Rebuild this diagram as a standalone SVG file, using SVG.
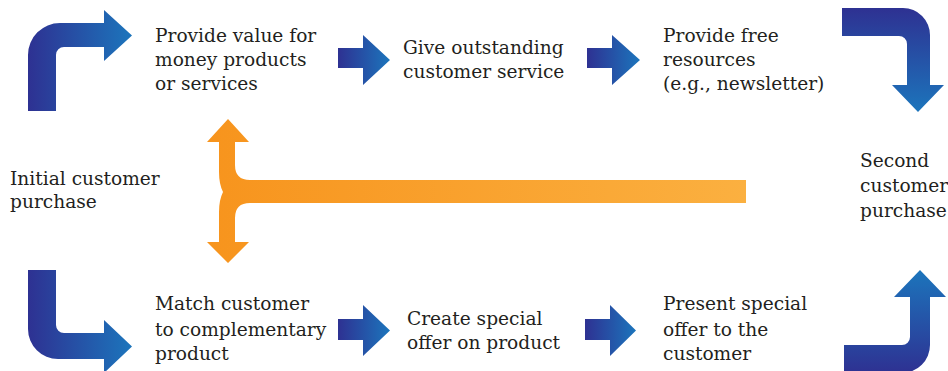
<svg xmlns="http://www.w3.org/2000/svg" width="948" height="371" viewBox="0 0 948 371">
  <defs>
    <linearGradient id="blueH" x1="0" y1="0" x2="1" y2="0">
      <stop offset="0" stop-color="#2e3192"/>
      <stop offset="1" stop-color="#1c75bc"/>
    </linearGradient>
    <linearGradient id="blueDown" x1="0" y1="0" x2="0" y2="1">
      <stop offset="0" stop-color="#2e3192"/>
      <stop offset="1" stop-color="#1c75bc"/>
    </linearGradient>
    <linearGradient id="blueUp" x1="0" y1="1" x2="0" y2="0">
      <stop offset="0" stop-color="#2e3192"/>
      <stop offset="1" stop-color="#1c75bc"/>
    </linearGradient>
    <linearGradient id="orangeH" x1="0" y1="0" x2="1" y2="0">
      <stop offset="0" stop-color="#f7941d"/>
      <stop offset="1" stop-color="#fbb040"/>
    </linearGradient>
  </defs>
  <style>
    .lbl { font-family: "DejaVu Serif", "Liberation Serif", serif; font-size: 18.6px; fill: #231f20; }
  </style>

  <!-- connectors -->
  <g id="connectors">
    <!-- corner arrows -->
    <path fill="url(#blueH)" d="M28,111 L28,55 A32,32 0 0 1 60,23 L104,23 L104,10 L132,35.5 L104,61 L104,47 L64,47 A8,8 0 0 0 56,55 L56,111 Z"/>
    <path fill="url(#blueDown)" d="M842,8 L903,8 A27,27 0 0 1 930,35 L930,85 L944,85 L918,112 L892,85 L907,85 L907,44 A8,8 0 0 0 899,36 L842,36 Z"/>
    <path fill="url(#blueH)" d="M28,270 L56,270 L56,325 A8,8 0 0 0 64,333 L104,333 L104,320 L132,346.5 L104,373 L104,359 L58,359 A30,30 0 0 1 28,329 Z"/>
    <path fill="url(#blueUp)" d="M844,345 L902,345 A8,8 0 0 0 910,337 L910,297 L894,297 L920,270 L946,297 L930,297 L930,345 A28,28 0 0 1 902,373 L844,373 Z"/>
    <!-- step arrows -->
    <path fill="url(#blueH)" d="M338,48 L363,48 L363,35 L390,60 L363,85 L363,68 L338,68 Z"/>
    <path fill="url(#blueH)" d="M587,48 L612,48 L612,35 L640,60 L612,85 L612,68 L587,68 Z"/>
    <path fill="url(#blueH)" d="M338,319 L363,319 L363,305 L390,330.5 L363,356 L363,340 L338,340 Z"/>
    <path fill="url(#blueH)" d="M585,319 L610,319 L610,305 L636,330.5 L610,356 L610,340 L585,340 Z"/>
    <!-- feedback arrow -->
    <path fill="url(#orangeH)" d="M228,119 L249,142 L235,142 L235,165 Q235,180 250,180 L746,180 L746,203 L250,203 Q235,203 235,218 L235,242 L249,242 L228,263 L207,242 L219,242 L219,212 Q219,200 223,192 Q219,184 219,172 L219,142 L207,142 Z"/>
  </g>

  <g id="initial-purchase">
    <text class="lbl" x="10" y="185">Initial customer</text>
    <text class="lbl" x="10" y="208">purchase</text>
  </g>
  <g id="value-for-money">
    <text class="lbl" x="155" y="42">Provide value for</text>
    <text class="lbl" x="155" y="66">money products</text>
    <text class="lbl" x="155" y="90">or services</text>
  </g>
  <g id="customer-service">
    <text class="lbl" x="403" y="54">Give outstanding</text>
    <text class="lbl" x="403" y="78">customer service</text>
  </g>
  <g id="free-resources">
    <text class="lbl" x="663" y="42">Provide free</text>
    <text class="lbl" x="663" y="66">resources</text>
    <text class="lbl" x="663" y="90">(e.g., newsletter)</text>
  </g>
  <g id="second-purchase">
    <text class="lbl" x="860" y="167">Second</text>
    <text class="lbl" x="860" y="192">customer</text>
    <text class="lbl" x="860" y="217">purchase</text>
  </g>
  <g id="complementary-product">
    <text class="lbl" x="155" y="310">Match customer</text>
    <text class="lbl" x="155" y="336">to complementary</text>
    <text class="lbl" x="155" y="360">product</text>
  </g>
  <g id="special-offer">
    <text class="lbl" x="407" y="325">Create special</text>
    <text class="lbl" x="407" y="349">offer on product</text>
  </g>
  <g id="present-offer">
    <text class="lbl" x="663" y="310">Present special</text>
    <text class="lbl" x="663" y="336">offer to the</text>
    <text class="lbl" x="663" y="360">customer</text>
  </g>
</svg>
